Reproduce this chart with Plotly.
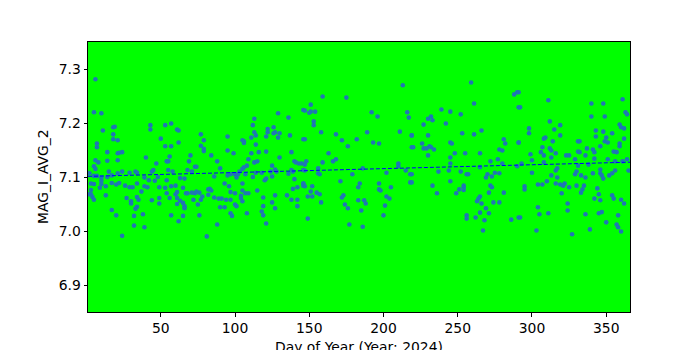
import numpy as np
import plotly.graph_objects as go

# ---- data ----
day_a = [6,5,10,11,18,19,18,18,21,7,
         7,14,21,22,24,21,6,8,5,6,
         14,15,2,5,7,10,14,17,21,24,
         29,33,34,40,43,43,53,57,61,62,
         50,53,57,62,56,54,55,47,45,44,
         55,58,69,70,68,71,73,42,39,48,
         46,49,54,3,5,10,10,13,17,20,
         22,26,29,31,34,39,41,53,57,60,
         63,66,65,67,68,71,73,2,4,9,
         5,13,27,30,30,34,35,37,34,33,
         44,49,49,54,56,60,61,61,61,63,
         65,66,66,72,17,20,32,32,38,39,
         57,65,62,24,3,3]
mag_a = [7.281,7.220,7.218,7.186,7.192,7.193,7.179,7.170,7.168,7.162,
         7.155,7.146,7.144,7.145,7.146,7.131,7.131,7.127,7.120,7.115,
         7.130,7.110,7.107,7.102,7.102,7.099,7.100,7.103,7.107,7.110,
         7.108,7.110,7.108,7.136,7.196,7.188,7.196,7.199,7.188,7.186,
         7.171,7.157,7.157,7.164,7.138,7.129,7.129,7.125,7.113,7.110,
         7.113,7.110,7.129,7.140,7.113,7.110,7.119,7.094,7.099,7.100,
         7.093,7.081,7.094,7.088,7.087,7.093,7.087,7.083,7.089,7.086,
         7.089,7.084,7.081,7.081,7.088,7.083,7.081,7.080,7.083,7.084,
         7.098,7.097,7.080,7.070,7.070,7.071,7.070,7.068,7.063,7.080,
         7.058,7.066,7.061,7.055,7.051,7.063,7.058,7.073,7.045,7.041,
         7.057,7.061,7.051,7.070,7.061,7.068,7.072,7.061,7.050,7.056,
         7.052,7.046,7.042,7.058,7.039,7.029,7.028,7.010,7.031,7.007,
         7.029,7.028,7.018,6.991,7.076,7.068]

day_b = [77,79,77,79,79,84,88,90,95,95,
         99,105,106,106,112,113,113,114,111,114,
         111,116,109,113,115,121,122,122,121,126,
         127,126,129,130,129,136,137,130,138,140,
         141,143,145,146,146,74,125,127,124,108,
         106,105,103,100,101,95,86,97,107,112,
         114,118,120,121,125,128,138,136,140,146,
         139,147,82,83,84,82,76,74,78,77,
         75,76,86,89,91,94,97,93,96,97,
         100,104,105,107,109,105,100,101,104,108,
         90,93,97,98,88,81,115,119,119,118,
         119,121,127,125,127,135,138,139,142,142,
         142,146,146,105,102]
mag_b = [7.179,7.168,7.158,7.152,7.148,7.140,7.129,7.116,7.175,7.149,
         7.144,7.168,7.163,7.166,7.196,7.208,7.183,7.177,7.173,7.160,
         7.144,7.146,7.133,7.127,7.129,7.147,7.189,7.183,7.175,7.192,
         7.183,7.181,7.218,7.181,7.173,7.210,7.177,7.136,7.146,7.129,
         7.127,7.125,7.125,7.170,7.224,7.119,7.121,7.114,7.110,7.121,
         7.118,7.115,7.110,7.105,7.099,7.103,7.101,7.105,7.105,7.100,
         7.108,7.108,7.094,7.097,7.101,7.110,7.113,7.106,7.096,7.113,
         7.110,7.112,7.077,7.078,7.075,7.067,7.071,7.073,7.064,7.058,
         7.049,7.029,7.062,7.060,7.060,7.058,7.058,7.088,7.083,7.072,
         7.070,7.065,7.075,7.070,7.070,7.055,7.049,7.046,7.061,7.033,
         7.044,7.044,7.033,7.028,7.012,6.990,7.075,7.062,7.046,7.036,
         7.029,7.014,7.066,7.053,7.042,7.066,7.058,7.078,7.081,7.058,
         7.046,7.088,7.084,7.088,7.105]

day_c = [213,159,175,151,147,151,154,150,153,153,
         158,168,172,176,182,147,192,196,189,193,
         197,211,216,217,219,219,163,148,147,159,
         166,168,156,156,157,179,186,210,210,215,
         202,219,171,184,183,197,205,218,146,147,
         152,151,155,157,149,152,173,172,158,174,
         176,183,187,188,185,197,198,202,204,201,
         200,149,177,186]
mag_c = [7.270,7.249,7.247,7.234,7.223,7.221,7.221,7.219,7.203,7.196,
         7.183,7.179,7.168,7.157,7.170,7.170,7.220,7.212,7.183,7.164,
         7.162,7.184,7.220,7.210,7.177,7.155,7.144,7.129,7.123,7.127,
         7.129,7.133,7.116,7.107,7.105,7.105,7.116,7.125,7.120,7.112,
         7.108,7.105,7.092,7.088,7.081,7.088,7.081,7.090,7.088,7.083,
         7.083,7.073,7.071,7.068,7.064,7.064,7.066,7.062,7.053,7.049,
         7.042,7.057,7.057,7.051,7.038,7.077,7.075,7.064,7.060,7.047,
         7.029,7.023,7.012,7.008]

day_d = [259,288,290,291,261,239,245,252,230,232,
         233,227,242,219,230,253,261,266,281,282,
         291,226,245,246,220,227,231,232,229,234,
         230,248,255,265,278,280,245,245,272,277,
         280,265,290,237,244,252,256,257,275,278,
         270,269,273,218,219,245,233,254,254,254,
         251,249,272,273,271,281,236,265,264,263,
         266,269,265,271,274,278,256,256,262,268,
         267,286,291]
mag_d = [7.275,7.253,7.257,7.229,7.236,7.225,7.221,7.216,7.208,7.212,
         7.205,7.197,7.199,7.177,7.177,7.181,7.179,7.186,7.170,7.162,
         7.164,7.162,7.164,7.162,7.155,7.153,7.157,7.155,7.153,7.151,
         7.140,7.144,7.144,7.144,7.151,7.149,7.136,7.125,7.129,7.133,
         7.125,7.118,7.120,7.110,7.112,7.110,7.105,7.105,7.108,7.107,
         7.105,7.099,7.101,7.105,7.090,7.092,7.084,7.084,7.081,7.076,
         7.077,7.070,7.084,7.081,7.071,7.071,7.070,7.064,7.060,7.055,
         7.051,7.042,7.034,7.033,7.053,7.053,7.029,7.023,7.025,7.020,
         7.001,7.021,7.025]

day_e = [291,292,311,340,348,361,363,364,340,349,
         312,319,315,298,298,291,309,308,319,314,
         343,348,354,343,350,349,351,359,360,362,
         362,359,359,331,332,346,337,341,342,307,
         306,308,312,313,316,299,300,293,308,313,
         323,325,331,332,336,342,355,357,361,356,
         351,364,329,365,331,338,316,317,313,300,
         317,329,330,333,336,341,346,346,347,348,
         352,354,356,310,316,319,322,321,325,304,
         307,330,335,334,333,295,295,320,344,345,
         342,346,354,355,360,362,324,304,305,311,
         324,336,345,347,350,358,357,358,360,292,
         303,327,339]
mag_e = [7.257,7.229,7.242,7.236,7.236,7.244,7.220,7.216,7.212,7.212,
         7.203,7.196,7.188,7.190,7.181,7.164,7.173,7.171,7.177,7.166,
         7.186,7.184,7.181,7.175,7.173,7.166,7.164,7.197,7.192,7.190,
         7.171,7.162,7.157,7.166,7.166,7.157,7.153,7.151,7.146,7.155,
         7.146,7.140,7.153,7.149,7.144,7.142,7.131,7.125,7.127,7.136,
         7.140,7.140,7.147,7.146,7.140,7.134,7.147,7.146,7.129,7.129,
         7.133,7.133,7.133,7.112,7.121,7.123,7.112,7.116,7.103,7.108,
         7.099,7.105,7.110,7.103,7.099,7.107,7.114,7.107,7.103,7.097,
         7.103,7.107,7.112,7.092,7.088,7.086,7.088,7.084,7.081,7.086,
         7.086,7.084,7.084,7.077,7.071,7.083,7.077,7.070,7.079,7.068,
         7.060,7.057,7.066,7.060,7.058,7.051,7.051,7.044,7.031,7.033,
         7.038,7.031,7.033,7.035,7.016,7.029,7.012,7.007,6.999,7.025,
         7.001,6.994,7.003]

x_ticks = [50, 100, 150, 200, 250, 300, 350]
y_ticks = [6.9, 7.0, 7.1, 7.2, 7.3]
x_label = "Day of Year (Year: 2024)"
y_label = "MAG_I_AVG_2"

days = np.array(day_a + day_b + day_c + day_d + day_e, dtype=float)
mags = np.array(mag_a + mag_b + mag_c + mag_d + mag_e, dtype=float)

# linear trend from the data
slope, intercept = np.polyfit(days, mags, 1)
trend_x = np.array([1.0, 366.0])
trend_y = slope * trend_x + intercept

FONT = "DejaVu Sans"

fig = go.Figure()
fig.add_trace(go.Scatter(
    x=days, y=mags, mode="markers",
    marker=dict(size=4.6, color="#1f77b4", line=dict(width=0)),
    showlegend=False, hoverinfo="skip"))
fig.add_trace(go.Scatter(
    x=trend_x, y=trend_y, mode="lines",
    line=dict(color="#0000ff", width=1, dash="4px,2px"),
    showlegend=False, hoverinfo="skip"))

axis_common = dict(
    showgrid=False, zeroline=False, showline=True, mirror=True,
    linecolor="black", linewidth=1, ticks="outside", ticklen=3.5,
    tickwidth=1, tickcolor="black",
    tickfont=dict(family=FONT, size=13.9, color="black"),
)

fig.update_layout(
    width=700, height=350,
    margin=dict(l=88, r=70, t=42, b=38),
    paper_bgcolor="white", plot_bgcolor="#00ff00",
    font=dict(family=FONT, size=13.9, color="black"),
    xaxis=dict(range=[1, 366], tickvals=x_ticks, **axis_common),
    yaxis=dict(range=[6.85, 7.35], tickvals=y_ticks, tickformat=".1f", **axis_common),
    annotations=[
        dict(text=x_label, xref="paper", yref="paper", x=0.5, y=-0.13,
             xanchor="center", yanchor="middle", showarrow=False,
             font=dict(family=FONT, size=13.9, color="black")),
        dict(text=y_label, xref="paper", yref="paper", x=-0.083, y=0.5,
             xanchor="center", yanchor="middle", textangle=-90, showarrow=False,
             font=dict(family=FONT, size=13.9, color="black")),
    ],
)

fig.write_html("out.html")
